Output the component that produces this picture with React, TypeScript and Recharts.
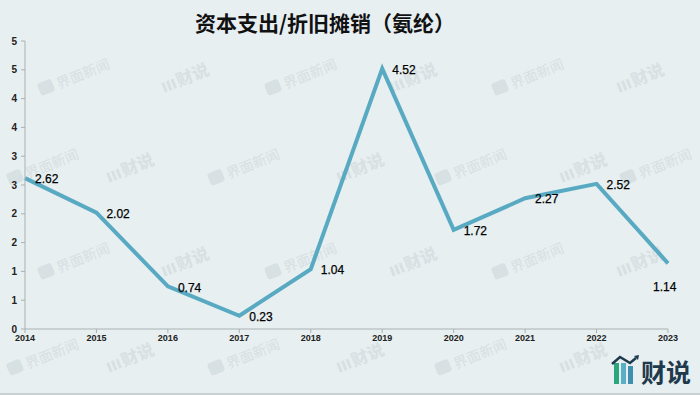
import React from "react";
import { LineChart, Line, XAxis, YAxis, LabelList, Customized } from "recharts";

const years = ["2014", "2015", "2016", "2017", "2018", "2019", "2020", "2021", "2022", "2023"];
const ratio = [2.62, 2.02, 0.74, 0.23, 1.04, 4.52, 1.72, 2.27, 2.52, 1.14];
const yTicks = [0, 0.5, 1, 1.5, 2, 2.5, 3, 3.5, 4, 4.5, 5];
const title = "资本支出/折旧摊销（氨纶）";

const data = years.map((y, i) => ({ year: y, value: ratio[i] }));

const FONT = "'Liberation Sans', Arial, sans-serif";
const CJK = "'Noto Sans CJK SC', sans-serif";
const WM = "#D7E0E2";

// watermark grid
const wmRowA = [73, 185, 300, 413, 527, 640];
const wmRowB = [42, 130, 243, 360, 470, 583, 655];

const renderLabel = (props: any) => {
  const { x, y, value, index } = props;
  const last = index === ratio.length - 1;
  return (
    <text
      x={last ? x - 15 : x + 10}
      y={last ? y + 23 : y + 1}
      dy="0.35em"
      textAnchor="start"
      fontSize={12}
      fontFamily={FONT}
      fill="#000"
      stroke="#000"
      strokeWidth={0.25}
    >
      {Number(value).toFixed(2)}
    </text>
  );
};

const WmJiemian = ({ x, y }: { x: number; y: number }) => (
  <g transform={`translate(${x},${y}) rotate(-22)`}>
    <rect x={-36} y={-8} width={15} height={13} rx={3} fill={WM} />
    <text x={-17} y={5} fontSize={14} fontFamily={CJK} fill={WM}>界面新闻</text>
  </g>
);

const WmCaishuo = ({ x, y }: { x: number; y: number }) => (
  <g transform={`translate(${x},${y}) rotate(-22)`}>
    <rect x={-24} y={-4} width={3} height={10} fill={WM} />
    <rect x={-19} y={-4} width={3} height={10} fill={WM} />
    <rect x={-14} y={-4} width={3} height={10} fill={WM} />
    <text x={-9} y={6} fontSize={17} fontWeight={700} fontFamily={CJK} fill={WM}>财说</text>
  </g>
);

const Watermarks = () => {
  const items: React.ReactNode[] = [];
  [78, 262].forEach((yy, r) =>
    wmRowA.forEach((xx, i) =>
      items.push(i % 2 === 0 ? <WmJiemian key={`a${r}-${i}`} x={xx} y={yy} /> : <WmCaishuo key={`a${r}-${i}`} x={xx} y={yy} />)
    )
  );
  [168, 358].forEach((yy, r) =>
    wmRowB.forEach((xx, i) => {
      if (r === 1 && i === wmRowB.length - 1) return;
      items.push(i % 2 === 0 ? <WmJiemian key={`b${r}-${i}`} x={xx} y={yy} /> : <WmCaishuo key={`b${r}-${i}`} x={xx} y={yy} />);
    })
  );
  return <g>{items}</g>;
};

const Logo = () => (
  <g>
    <rect x={614} y={363} width={5} height={21} fill="#2BA57E" />
    <rect x={621} y={363} width={5} height={21} fill="#5AAFC4" />
    <rect x={628} y={366} width={5} height={18} fill="#3F8FB0" />
    <polyline points="612,364 620,357 630,363 636,358" fill="none" stroke="#1E3A4C" strokeWidth={2.5} />
    <polygon points="634,356 639,355 638,360" fill="#1E3A4C" />
    <text x={666} y={382} textAnchor="middle" fontSize={25} fontWeight={700} fontFamily={CJK} fill="#1E3A4C">财说</text>
  </g>
);

export default function App() {
  return (
    <div style={{ position: "absolute", left: 0, top: 0, width: 700, height: 395, background: "#E7EFF1" }}>
      <LineChart width={700} height={395} data={data} margin={{ top: 41, right: 32, left: 0, bottom: 36 }}>
        <Customized component={Watermarks} />
        <text x={325} y={24} dy="0.35em" textAnchor="middle" fontSize={21} fontWeight={700} fontFamily={CJK} fill="#111">
          {title}
        </text>
        <XAxis
          dataKey="year"
          height={30}
          tickSize={4}
          tickMargin={2}
          stroke="#A9B1B3"
          tick={{ fontSize: 9, fontWeight: 700, fill: "#222", fontFamily: FONT }}
          interval={0}
        />
        <YAxis
          width={25}
          domain={[0, 5]}
          ticks={yTicks}
          tickSize={4}
          tickMargin={4}
          stroke="#A9B1B3"
          interval={0}
          tickFormatter={(v: number) => String(Math.round(v))}
          tick={{ fontSize: 10, fontWeight: 700, fill: "#222", fontFamily: FONT }}
        />
        <Line type="linear" dataKey="value" stroke="#58A9C2" strokeWidth={4} dot={false} isAnimationActive={false}>
          <LabelList dataKey="value" content={renderLabel} />
        </Line>
        <Customized component={Logo} />
        <line x1={0} y1={394} x2={700} y2={394} stroke="#C9D1D3" strokeWidth={2} />
      </LineChart>
    </div>
  );
}
